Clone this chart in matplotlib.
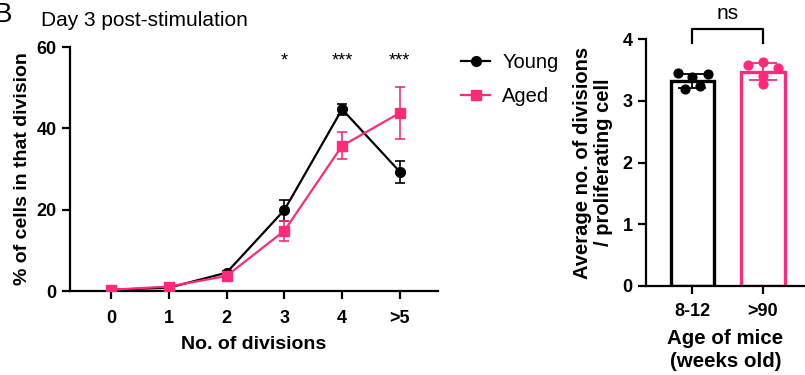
import numpy as np
import matplotlib
matplotlib.use('Agg')
import matplotlib.pyplot as plt
from matplotlib.lines import Line2D

plt.rcParams['font.family'] = ['Liberation Sans', 'DejaVu Sans']

# data: division profile, day 3
divisions = ['0', '1', '2', '3', '4', '>5']
young = [0.3, 0.8, 4.5, 19.9, 44.7, 29.3]
young_err = [0.2, 0.3, 0.5, 2.6, 1.3, 2.7]
aged = [0.3, 1.1, 3.7, 14.8, 35.7, 43.8]
aged_err = [0.2, 0.3, 0.5, 2.5, 3.3, 6.3]
stars_pos = [3, 4, 5]
stars_txt = ['*', '***', '***']

# data: average divisions per proliferating cell
groups = ['8-12', '>90']
bar_means = [3.32, 3.47]
bar_sd = [0.12, 0.14]
young_pts = [3.45, 3.44, 3.38, 3.24, 3.19]
aged_pts = [3.58, 3.62, 3.53, 3.40, 3.27]
young_jit = [-0.21, 0.22, 0.0, 0.11, -0.11]
aged_jit = [-0.21, 0.0, 0.21, 0.0, 0.0]

BLACK = '#000000'
PINK = '#ff2a7a'

fig = plt.figure(figsize=(8.05, 3.75), dpi=100)

# ---- left panel ----
ax = fig.add_axes([70/805, 1-291/375, (438-70)/805, (291-47)/375])
x = np.arange(len(divisions))
ax.errorbar(x, young, yerr=young_err, color=BLACK, marker='o', ms=7, lw=1.6,
            capsize=3.5, elinewidth=1.2, capthick=1.2, zorder=3)
ax.errorbar(x, aged, yerr=aged_err, color=PINK, marker='s', ms=7, lw=1.6,
            capsize=3.5, elinewidth=1.2, capthick=1.2, zorder=4)
for p, s in zip(stars_pos, stars_txt):
    ax.text(p, 56.5, s, ha='center', va='center', fontsize=13)
ax.set_xlim(-0.71, 5.66)
ax.set_ylim(0, 60)
ax.set_yticks([0, 20, 40, 60])
ax.set_xticks(x)
ax.set_xticklabels(divisions)
ax.set_xlabel('No. of divisions', fontsize=14, fontweight='bold', labelpad=6)
ax.set_ylabel('% of cells in that division', fontsize=14, fontweight='bold', labelpad=4)
ax.set_title('Day 3 post-stimulation', fontsize=15, loc='left', x=-0.08, pad=15)

handles = [Line2D([], [], color=BLACK, marker='o', ms=7, lw=1.6),
           Line2D([], [], color=PINK, marker='s', ms=7, lw=1.6)]
fig.legend(handles, ['Young', 'Aged'], loc='upper left',
           bbox_to_anchor=(461/805, 1-53/375),
           bbox_transform=fig.transFigure, frameon=False, fontsize=14.5,
           handlelength=1.45, handletextpad=0.6, labelspacing=0.75,
           borderpad=0, borderaxespad=0)

# ---- right panel ----
ax2 = fig.add_axes([646/805, 1-286/375, (805-646)/805, (286-39)/375])
xb = np.arange(len(groups))
cols = [BLACK, PINK]
ax2.bar(xb, bar_means, width=0.62, color='white', edgecolor=cols, linewidth=2.4, zorder=2)
for i in range(len(groups)):
    ax2.errorbar(xb[i], bar_means[i], yerr=bar_sd[i], fmt='none', ecolor=cols[i],
                 capsize=10, elinewidth=1.3, capthick=1.3, zorder=3)
ax2.scatter(xb[0] + np.array(young_jit), young_pts, s=40, color=BLACK, zorder=4)
ax2.scatter(xb[1] + np.array(aged_jit), aged_pts, s=40, color=PINK, zorder=4)
ax2.set_xlim(-0.66, 1.6)
ax2.set_ylim(0, 4)
ax2.set_yticks([0, 1, 2, 3, 4])
ax2.set_xticks(xb)
ax2.set_xticklabels(groups)
ax2.set_xlabel('Age of mice\n(weeks old)', fontsize=14.8, fontweight='bold', labelpad=7,
               linespacing=1.25)
ax2.set_ylabel('Average no. of divisions\n/ proliferating cell', fontsize=14.5,
               fontweight='bold', labelpad=7, linespacing=1.1)
# ns bracket
ax2.plot([0, 0, 1, 1], [3.93, 4.16, 4.16, 3.93], color=BLACK, lw=1.6, clip_on=False)
ax2.text(0.5, 4.42, 'ns', ha='center', va='center', fontsize=15)

for a in (ax, ax2):
    for side in ('top', 'right'):
        a.spines[side].set_visible(False)
    for side in ('left', 'bottom'):
        a.spines[side].set_linewidth(1.6)
    a.tick_params(width=1.6, length=6, labelsize=13)
    for lab in a.get_xticklabels() + a.get_yticklabels():
        lab.set_fontweight('bold')
ax.tick_params(axis='x', pad=8)
ax2.tick_params(axis='x', pad=6)

fig.text(-6/805, 1-2/375, 'B', fontsize=20, ha='left', va='top')

fig.savefig('out.png', dpi=100)
